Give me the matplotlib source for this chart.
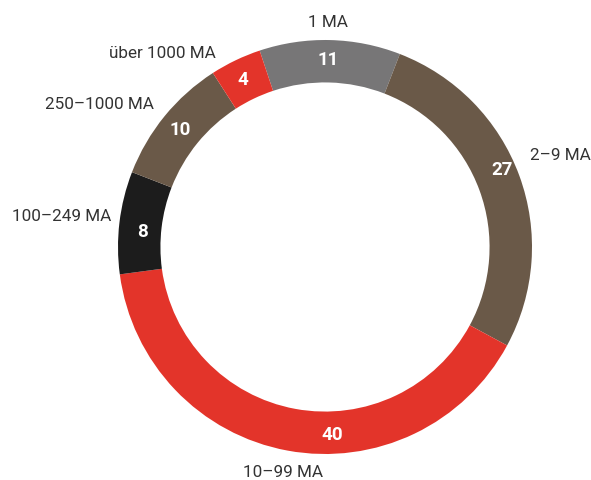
import numpy as np
import matplotlib
matplotlib.use("Agg")
from matplotlib import pyplot as plt

# share of companies by size (Mitarbeiter)
categories = ["1 MA", "2–9 MA", "10–99 MA", "100–249 MA", "250–1000 MA", "über 1000 MA"]
values = [11, 27, 40, 8, 10, 4]
colors = ["#777677", "#6a5948", "#e3342a", "#1c1c1c", "#6a5948", "#e3342a"]

# label positions (data coords, ring radius = 1)
label_pos = [(0.014, 1.085), (1.135, 0.444), (-0.203, -1.087),
             (-1.271, 0.145), (-1.087, 0.686), (-0.783, 0.937)]
# value positions inside the ring
value_pos = [(0.014, 0.903), (0.855, 0.372), (0.034, -0.908),
             (-0.884, 0.072), (-0.700, 0.565), (-0.396, 0.807)]

plt.rcParams["font.family"] = ["Roboto", "DejaVu Sans"]

fig = plt.figure(figsize=(5.91, 4.80), dpi=100)
ax = fig.add_axes([0, 0, 1, 1])

wedges, _ = ax.pie(values, colors=colors, startangle=108.4, counterclock=False,
                   radius=1.0, wedgeprops=dict(width=0.205, linewidth=0))

for v, (x, y) in zip(values, value_pos):
    ax.text(x, y, str(v), color="white", fontsize=13.5, fontweight="bold",
            ha="center", va="center")

for lab, (x, y) in zip(categories, label_pos):
    ax.text(x, y, lab, fontsize=12.3, color="#333333", ha="center", va="center")

ax.set_xlim(-325 / 207, (591 - 325) / 207)
ax.set_ylim((247 - 480) / 207, 247 / 207)
ax.set_aspect("equal")
ax.axis("off")

fig.savefig("out.png", dpi=100)
